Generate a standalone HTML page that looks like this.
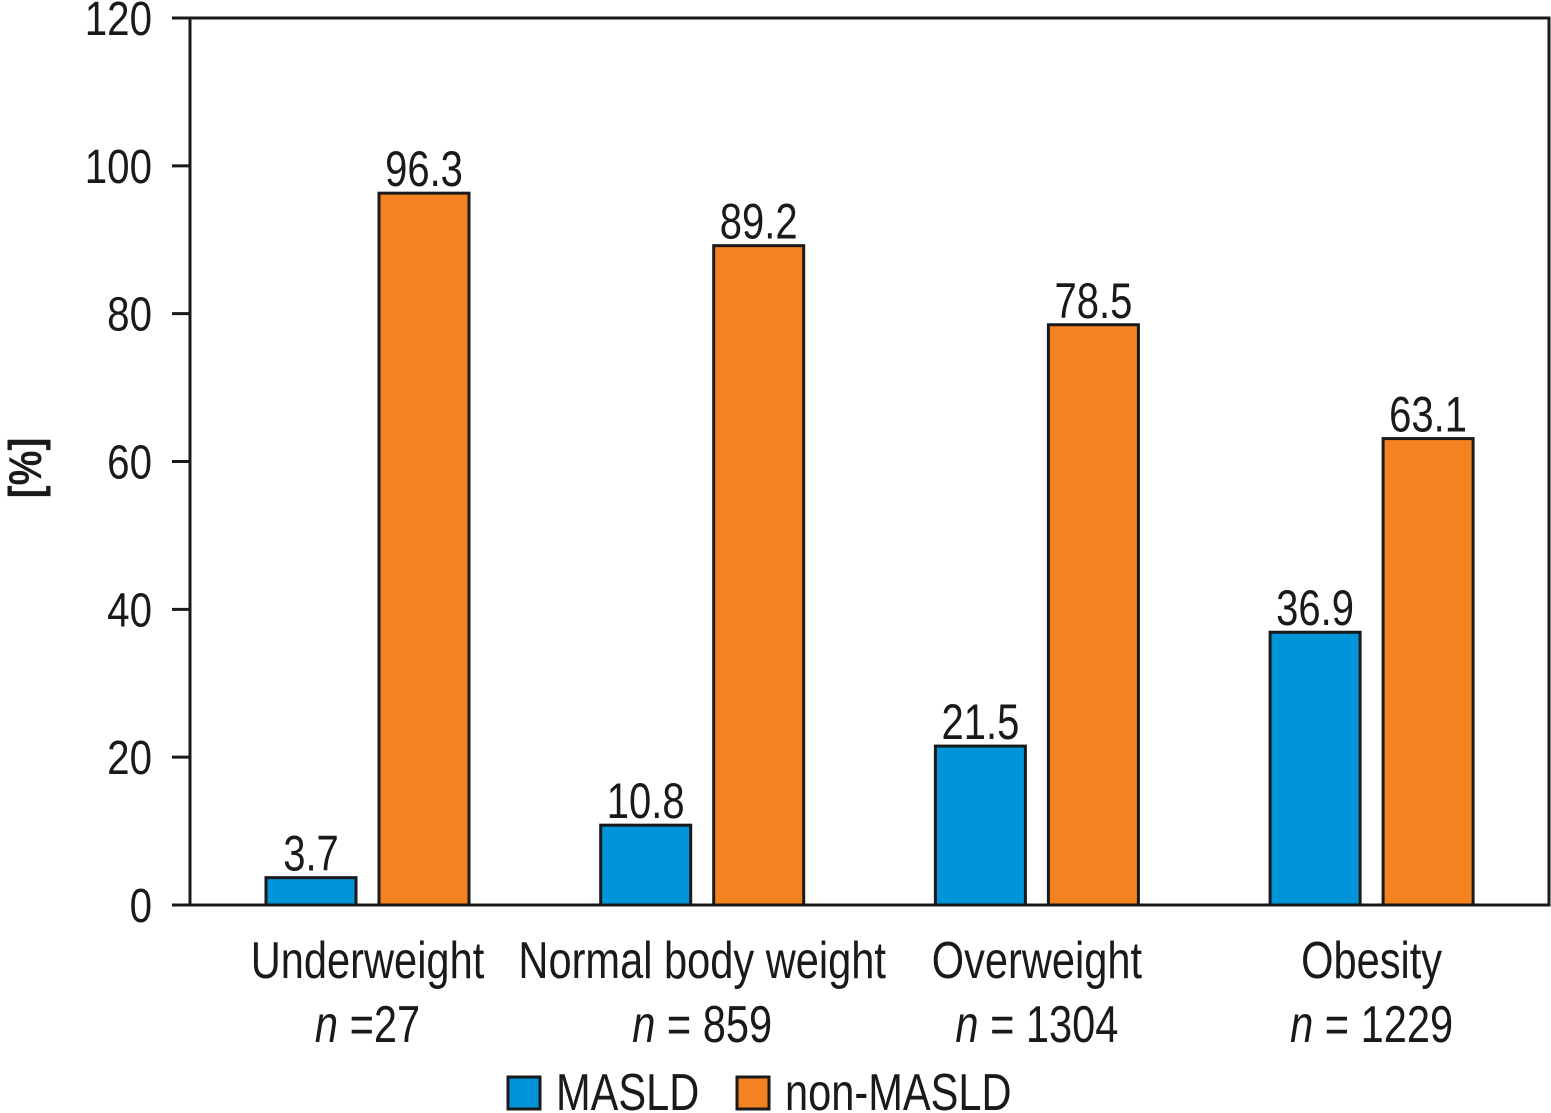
<!DOCTYPE html>
<html><head><meta charset="utf-8"><style>
body{margin:0;background:#fff}
svg{display:block}
text{font-family:"Liberation Sans Narrow","Liberation Sans",sans-serif;fill:#1a1a1a}
</style></head><body>
<svg id="chart" width="1551" height="1113" viewBox="0 0 1551 1113"></svg>
<script>
const categories=["Underweight","Normal body weight","Overweight","Obesity"];
const counts=["=27","= 859","= 1304","= 1229"];
const maslValues=[3.7,10.8,21.5,36.9];
const nonMaslValues=[96.3,89.2,78.5,63.1];
const yTicks=[0,20,40,60,80,100,120];
const colors=["#0095d9","#f58220"];
const seriesNames=["MASLD","non-MASLD"];

const NS="http://www.w3.org/2000/svg";
const svg=document.getElementById('chart');
const X0=190,X1=1549,Y0=905,Y1=18,YMAX=120;
function y(v){return Y0-(v/YMAX)*(Y0-Y1);}
function groupCenter(i){return 367.5+i*334.7;}
function mk(tag,attrs,parent){const e=document.createElementNS(NS,tag);for(const k in attrs)e.setAttribute(k,attrs[k]);(parent||svg).appendChild(e);return e;}
function txt(x,yy,anchor,size,sx){return mk('text',{x:0,y:0,'text-anchor':anchor,'font-size':size,transform:`translate(${x},${yy}) scale(${sx},1)`});}

const frame=mk('rect',{x:X0,y:Y1,width:X1-X0,height:Y0-Y1,fill:'none',stroke:'#1a1a1a','stroke-width':3});



yTicks.forEach(t=>{
  const l=mk('line',{x1:172,x2:X0,y1:y(t),y2:y(t),stroke:'#1a1a1a','stroke-width':3});
  
  
  const tx=txt(152,y(t)+17,'end',48,0.84);
  tx.textContent=t;
  
  
});

const yt=mk('text',{x:0,y:0,'text-anchor':'middle','font-size':46,'font-weight':'bold',transform:'translate(41,468) rotate(-90) scale(0.85,1)'});
yt.textContent='[%]';



const BW=90,GAP=23;
categories.forEach((c,i)=>{
  const cx=groupCenter(i);
  [maslValues[i],nonMaslValues[i]].forEach((v,s)=>{
    const bx=s===0?cx-GAP/2-BW:cx+GAP/2;
    const r=mk('rect',{x:bx,y:y(v),width:BW,height:Y0-y(v),fill:colors[s],stroke:'#1a1a1a','stroke-width':3});
    
    
    const lb=txt(bx+BW/2,y(v)-7,'middle',50,0.8);
    lb.textContent=v.toFixed(1);
    
    
  });
  const t1=txt(cx,978,'middle',52,0.8);
  t1.textContent=c;
  
  
  const t2=txt(cx,1042,'middle',52,0.8);
  
  
  const ts=mk('tspan',{'font-style':'italic'},t2);ts.textContent='n ';
  const ts2=mk('tspan',{},t2);ts2.textContent=counts[i];
});

const legendX=[508,737];
seriesNames.forEach((n,s)=>{
  const r=mk('rect',{x:legendX[s],y:1077,width:32,height:32,fill:colors[s],stroke:'#1a1a1a','stroke-width':3});
  
  
  const t=txt(legendX[s]+48,1110,'start',52,0.8);
  t.textContent=n;
  
  
});
</script>
</body></html>
